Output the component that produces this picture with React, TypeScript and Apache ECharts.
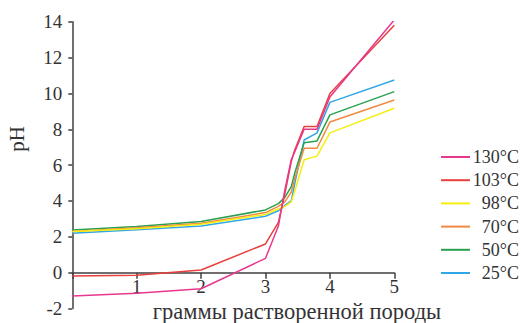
import React, { useEffect, useRef } from "react";
import * as echarts from "echarts";

const xs = [0, 1, 2, 3, 3.2, 3.3, 3.4, 3.45, 3.6, 3.8, 4, 5];
const ph130 = [-1.3, -1.15, -0.9, 0.8, 2.6, 4.6, 6.3, 6.7, 8.0, 8.0, 9.8, 14.1];
const ph103 = [-0.18, -0.15, 0.15, 1.6, 2.8, 4.4, 6.2, 6.8, 8.15, 8.15, 10.0, 13.8];
const ph98 = [2.3, 2.45, 2.7, 3.25, 3.55, 3.7, 3.95, 4.5, 6.3, 6.5, 7.8, 9.17];
const ph70 = [2.3, 2.5, 2.75, 3.35, 3.7, 3.95, 4.5, 5.2, 6.94, 6.94, 8.4, 9.63];
const ph50 = [2.38, 2.57, 2.85, 3.5, 3.85, 4.2, 4.8, 5.5, 7.25, 7.35, 8.8, 10.1];
const ph25 = [2.2, 2.4, 2.6, 3.15, 3.45, 3.75, 4.0, 4.9, 7.4, 7.8, 9.5, 10.75];

const seriesNames = ["130°C", "103°C", "98°C", "70°C", "50°C", "25°C"];
const seriesValues = [ph130, ph103, ph98, ph70, ph50, ph25];
const seriesColors = ["#e8388e", "#e8403c", "#f5ee10", "#f08a40", "#28a050", "#30a8e6"];

const xTitle = "граммы растворенной породы";
const yTitle = "pH";
const font = "'Liberation Serif', 'Times New Roman', serif";

export default function App() {
  const ref = useRef<HTMLDivElement>(null);
  useEffect(() => {
    if (!ref.current) return;
    const chart = echarts.init(ref.current, undefined, { renderer: "svg" });
    const series = seriesNames
      .map((name, i) => ({
        name,
        type: "line",
        showSymbol: false,
        symbol: "none",
        data: xs.map((x, j) => [x, seriesValues[i][j]]),
        lineStyle: { color: seriesColors[i], width: 1.5 },
        itemStyle: { color: seriesColors[i] },
      }))
      .reverse();
    chart.setOption({
      animation: false,
      backgroundColor: "#ffffff",
      grid: {
        left: 72.3,
        right: 126.7,
        top: 21.7,
        bottom: 14.5,
        containLabel: false,
        outerBoundsMode: "none",
      },
      graphic: [
        {
          type: "text",
          x: 17,
          y: 139,
          rotation: Math.PI / 2,
          style: {
            text: yTitle,
            fontFamily: font,
            fontSize: 21,
            fill: "#333333",
            align: "center",
            verticalAlign: "middle",
          },
        },
        {
          type: "text",
          x: 297,
          y: 311,
          style: {
            text: xTitle,
            fontFamily: font,
            fontSize: 22.5,
            fill: "#333333",
            align: "center",
            verticalAlign: "middle",
          },
        },
      ],
      legend: {
        data: seriesNames,
        orient: "vertical",
        left: 441,
        top: 148,
        padding: 0,
        icon: "rect",
        itemWidth: 29,
        itemHeight: 2,
        itemGap: 5.2,
        formatter: "{a|{name}}",
        textStyle: {
          fontFamily: font,
          fontSize: 18,
          color: "#333333",
          rich: { a: { width: 44, align: "right", fontFamily: font, fontSize: 18, lineHeight: 18, color: "#333333" } },
        },
      },
      xAxis: {
        type: "value",
        min: 0,
        max: 5,
        interval: 1,
        offset: -35.8,
        axisLine: { onZero: false, lineStyle: { color: "#404040", width: 1.5 } },
        axisTick: { show: true, length: 6, lineStyle: { color: "#404040", width: 1.5 } },
        axisLabel: {
          fontFamily: font,
          fontSize: 19,
          color: "#333333",
          margin: 4,
          formatter: (v: number) => (v === 0 ? "" : String(v)),
        },
        splitLine: { show: false },
      },
      yAxis: {
        type: "value",
        min: -2,
        max: 14,
        interval: 2,
        axisLine: { show: true, onZero: false, lineStyle: { color: "#404040", width: 1.5 } },
        axisTick: { show: true, length: 4, lineStyle: { color: "#404040", width: 1.5 } },
        axisLabel: { fontFamily: font, fontSize: 19, color: "#333333", margin: 10 },
        splitLine: { show: false },
      },
      series,
    });
    return () => chart.dispose();
  }, []);
  return (
    <div
      ref={ref}
      style={{ position: "fixed", left: 0, top: 0, width: 521, height: 323 }}
    />
  );
}
